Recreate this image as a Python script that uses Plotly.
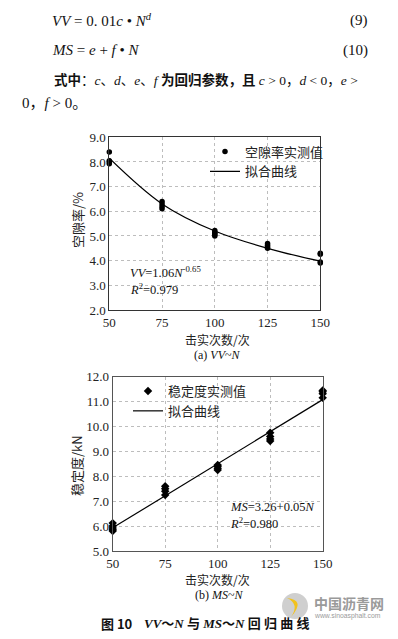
import plotly.graph_objects as go

# ---------------- data ----------------
x_ticks = [50, 75, 100, 125, 150]

vv_N = [50, 50, 50, 50, 75, 75, 75, 75, 100, 100, 100, 100, 100,
        125, 125, 125, 125, 150, 150, 150, 150]
vv_meas = [8.4, 8.05, 8.0, 7.93, 6.4, 6.3, 6.2, 6.1, 5.22, 5.15, 5.1, 5.05, 5.0,
           4.7, 4.62, 4.55, 4.5, 4.3, 4.26, 3.95, 3.9]
vv_fit_N = [50, 75, 100, 125, 150]
vv_fit = [8.15, 6.3, 5.2, 4.5, 3.98]

ms_N = [50, 50, 50, 50, 50, 75, 75, 75, 75, 100, 100, 100, 100,
        125, 125, 125, 125, 150, 150, 150, 150]
ms_meas = [6.12, 6.0, 5.92, 5.85, 5.8, 7.6, 7.5, 7.4, 7.25, 8.45, 8.4, 8.32, 8.25,
           9.75, 9.6, 9.5, 9.42, 11.45, 11.4, 11.32, 11.15]
ms_fit_N = [50, 150]
ms_fit = [5.93, 11.08]

W, H = 398, 639
OFF = 8  # page body margin offset of the plot div


def px(x):
    return (x - OFF) / W


def py(y):
    return 1 - (y - OFF) / H


SERIF = "Liberation Serif, Noto Sans CJK SC"
CJK = "Noto Sans CJK SC, Liberation Serif"

fig = go.Figure()

fig.add_trace(go.Scatter(x=vv_N, y=vv_meas, mode="markers", name="空隙率实测值",
                         marker=dict(symbol="circle", size=5.5, color="black"),
                         cliponaxis=False, xaxis="x", yaxis="y", legend="legend"))
fig.add_trace(go.Scatter(x=vv_fit_N, y=vv_fit, mode="lines", name="拟合曲线",
                         line=dict(color="black", width=1.2, shape="spline"),
                         cliponaxis=False, xaxis="x", yaxis="y", legend="legend"))
fig.add_trace(go.Scatter(x=ms_N, y=ms_meas, mode="markers", name="稳定度实测值",
                         marker=dict(symbol="diamond", size=6.5, color="black"),
                         cliponaxis=False, xaxis="x2", yaxis="y2", legend="legend2"))
fig.add_trace(go.Scatter(x=ms_fit_N, y=ms_fit, mode="lines", name="拟合曲线",
                         line=dict(color="black", width=1.2),
                         cliponaxis=False, xaxis="x2", yaxis="y2", legend="legend2"))

axis_common = dict(showgrid=True, gridcolor="#bdbdbd", griddash="dot", gridwidth=1,
                   showline=True, mirror=True, linewidth=1, zeroline=False,
                   automargin=False, ticks="",
                   tickfont=dict(family=SERIF, size=13, color="#222"))

fig.update_layout(
    template="none",
    width=W, height=H, margin=dict(l=0, r=0, t=0, b=0, pad=0, autoexpand=False),
    paper_bgcolor="white", plot_bgcolor="white",
    xaxis=dict(domain=[px(109.3), px(320.3)], range=[50, 150], tickvals=x_ticks,
               anchor="y", linecolor="#333", **axis_common),
    yaxis=dict(domain=[py(310), py(137.3)], range=[2, 9], dtick=1, tickformat=".1f",
               anchor="x", linecolor="#333", **axis_common),
    xaxis2=dict(domain=[px(112.7), px(322.7)], range=[50, 150], tickvals=x_ticks,
                anchor="y2", linecolor="#555", **axis_common),
    yaxis2=dict(domain=[py(551), py(376.7)], range=[5, 12], dtick=1, tickformat=".1f",
                anchor="x2", linecolor="#555", **axis_common),
    legend=dict(x=px(205), y=py(136.5), xanchor="left", yanchor="top",
                bgcolor="rgba(0,0,0,0)", font=dict(family=CJK, size=13, color="#222"),
                tracegroupgap=0, itemwidth=30),
    legend2=dict(x=px(128), y=py(376), xanchor="left", yanchor="top",
                 bgcolor="rgba(0,0,0,0)", font=dict(family=CJK, size=13, color="#222"),
                 tracegroupgap=0, itemwidth=30),
    showlegend=True,
)

ann = []


def A(text, x, y, size=13, family=SERIF, xanchor="left", color="#111", angle=0):
    ann.append(dict(text=text, x=px(x), y=py(y), xref="paper", yref="paper",
                    xanchor=xanchor, yanchor="middle", showarrow=False, textangle=angle,
                    font=dict(family=family, size=size, color=color)))


# top text
A("<i>VV</i> = 0. 01<i>c</i> • <i>N</i><sup><i>d</i></sup>", 50, 20, size=15)
A("(9)", 370, 20, size=15, xanchor="right")
A("<i>MS</i> = <i>e</i> + <i>f</i> • <i>N</i>", 50, 50, size=15)
A("(10)", 370, 50, size=15, xanchor="right")
A("<b>式中</b>：<i>c</i>、<i>d</i>、<i>e</i>、<i>f</i> <b>为回归参数，且</b> "
  "<i>c</i> &gt; 0，<i>d</i> &lt; 0，<i>e</i> &gt;", 52, 80, size=13.5)
A("0，<i>f</i> &gt; 0。", 20, 103, size=15)

# chart 1 texts
A("<i>VV</i>=1.06<i>N</i><sup>-0.65</sup>", 128, 272, size=12.5)
A("<i>R</i><sup>2</sup>=0.979", 128, 289, size=12.5)
A("击实次数/次", 217, 339, size=12, family=CJK, xanchor="center", color="#222")
A("(a) <i>VV</i>~<i>N</i>", 217, 354.5, size=12, xanchor="center")
A("空隙率/%", 77, 220, size=13, family=CJK, xanchor="center", color="#222", angle=-90)

# chart 2 texts
A("<i>MS</i>=3.26+0.05<i>N</i>", 228, 507, size=12.5)
A("<i>R</i><sup>2</sup>=0.980", 228, 523, size=12.5)
A("击实次数/次", 218, 579, size=12, family=CJK, xanchor="center", color="#222")
A("(b) <i>MS</i>~<i>N</i>", 219, 594.5, size=12, xanchor="center")
A("稳定度/kN", 76, 466, size=13, family=CJK, xanchor="center", color="#222", angle=-90)

# caption
A("<b>图 10</b>", 99, 623, size=13, family=CJK)
A("<b><i>VV</i>～<i>N</i> 与 <i>MS</i>～<i>N</i> 回 归 曲 线</b>", 142, 623, size=13, family=SERIF)

# watermark
A("<b>中国沥青网</b>", 312, 603, size=14, family=CJK, color="#9a9a9a")
A("www.sinoasphalt.com", 312, 616, size=6.8, family="Liberation Sans", color="#9a9a9a")

fig.update_layout(annotations=ann)

shapes = [
    dict(type="circle", xref="paper", yref="paper", x0=px(282), x1=px(308),
         y0=py(619), y1=py(593), fillcolor="#cfcfcf", line=dict(width=0), layer="above"),
    dict(type="path", xref="paper", yref="paper",
         path="M %f %f Q %f %f %f %f Q %f %f %f %f Z" % (
             px(287), py(598), px(306), py(600), px(291), py(617),
             px(300), py(604), px(287), py(598)),
         fillcolor="#f2c21b", line=dict(width=0), layer="above"),
]
fig.update_layout(shapes=shapes)

fig.write_html("out.html")
